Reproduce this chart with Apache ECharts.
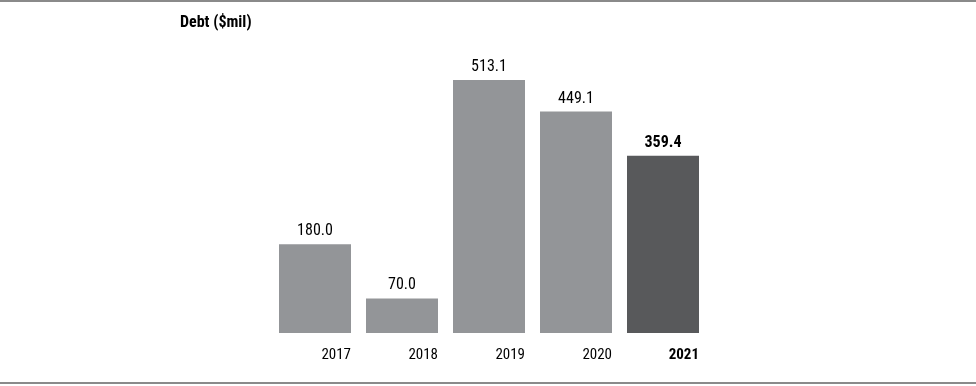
<!DOCTYPE html>
<html>
<head>
<meta charset="utf-8">
<script src="https://cdn.jsdelivr.net/npm/echarts@6/dist/echarts.min.js"></script>
<style>
html,body{margin:0;padding:0;background:#fff;}
#chart{width:976px;height:386px;}
</style>
</head>
<body>
<div id="chart"></div>
<script>
const categories = ['2017', '2018', '2019', '2020', '2021'];
const debtValues = [180.0, 70.0, 513.1, 449.1, 359.4];
const highlightIndex = 4;
const titleText = 'Debt ($mil)';

const FONT = '"Roboto Condensed", "DejaVu Sans Condensed", sans-serif';
const chart = echarts.init(document.getElementById('chart'), null, {renderer: 'canvas'});

const barData = debtValues.map((v, i) => ({
  value: v,
  itemStyle: {color: i === highlightIndex ? '#58595b' : '#939598'},
  label: {fontWeight: i === highlightIndex ? 'bold' : 'normal'}
}));
const yearData = debtValues.map((v, i) => ({
  value: v,
  label: {
    formatter: categories[i],
    fontWeight: i === highlightIndex ? 'bold' : 'normal'
  }
}));

chart.setOption({
  animation: false,
  backgroundColor: '#fff',
  title: {
    text: titleText,
    left: 175,
    top: 10,
    textStyle: {fontFamily: FONT, fontSize: 16, fontWeight: 'bold', color: '#000'}
  },
  grid: {left: 271.5, right: 269.5, top: 37.1, bottom: 53},
  xAxis: {
    type: 'category',
    data: categories,
    axisLine: {show: false},
    axisTick: {show: false},
    axisLabel: {show: false}
  },
  yAxis: {
    type: 'value',
    min: 0,
    max: 600,
    show: false,
    splitLine: {show: false}
  },
  series: [
    {
      type: 'bar',
      data: barData,
      barWidth: 72,
      label: {
        show: true,
        position: 'top',
        distance: 5,
        fontFamily: FONT,
        fontSize: 16,
        color: '#000',
        formatter: p => p.value.toFixed(1)
      }
    },
    {
      type: 'bar',
      data: yearData,
      barWidth: 72,
      barGap: '-100%',
      itemStyle: {color: 'rgba(0,0,0,0)'},
      silent: true,
      label: {
        show: true,
        position: ['100%', '100%'],
        align: 'right',
        verticalAlign: 'middle',
        offset: [0, 22],
        fontFamily: FONT,
        fontSize: 15,
        color: '#000'
      }
    }
  ],
  graphic: [
    {type: 'line', shape: {x1: 0, y1: 1, x2: 976, y2: 1}, style: {stroke: '#8a8a8a', lineWidth: 2}},
    {type: 'line', shape: {x1: 0, y1: 383, x2: 976, y2: 383}, style: {stroke: '#8a8a8a', lineWidth: 2}}
  ]
});
</script>
</body>
</html>
